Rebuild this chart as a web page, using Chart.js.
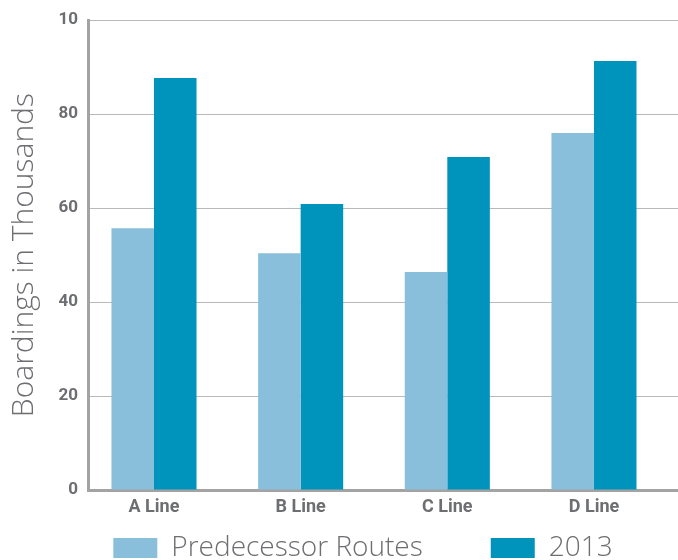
<!DOCTYPE html>
<html>
<head>
<meta charset="utf-8">
<script src="https://cdn.jsdelivr.net/npm/chart.js@4"></script>
<style>
  html, body { margin: 0; padding: 0; background: #fff; overflow: hidden; }
  #wrap { width: 678px; height: 560px; position: relative; }
</style>
</head>
<body>
<div id="wrap"><canvas id="boardChart"></canvas></div>
<script>
// chart values
const lines = ["A Line", "B Line", "C Line", "D Line"];
const predecessor = [55.7, 50.4, 46.4, 76.0];
const y2013 = [87.7, 60.9, 70.9, 91.3];
const yTicks = [0, 20, 40, 60, 80, 100];

const grey = "#6d6e71";
const legendGap = 68;

// bars sit on positions 1..4 of a linear axis so the gap at the left edge matches
const toPoints = arr => arr.map((v, i) => ({ x: i + 1, y: v }));

// keep the legend short (its padding is only meant as the gap between the two items)
const legendPlacer = {
    id: "legendPlacer",
    beforeInit(chart) {
        const fit = chart.legend.fit;
        chart.legend.fit = function () {
            fit.call(this);
            this.height = 34;
        };
    },
    afterLayout(chart) {
        const lg = chart.legend;
        // widen to the right so the centred row moves right and stays on one line
        lg.right += 48;
        lg.top = 534 - legendGap;
    }
};

const ctx = document.getElementById("boardChart").getContext("2d");
let boardChart = new Chart(ctx, {
    type: "bar",
    data: {
        datasets: [{
            label: "Predecessor Routes",
            backgroundColor: "#8abfdb",
            data: toPoints(predecessor)
        }, {
            label: "2013",
            backgroundColor: "#0093bb",
            data: toPoints(y2013)
        }]
    },
    plugins: [legendPlacer],
    options: {
        responsive: true,
        maintainAspectRatio: false,
        animation: false,
        categoryPercentage: 0.58,
        barPercentage: 1.0,
        layout: { padding: { top: 20, left: 0, right: 0, bottom: 0 } },
        plugins: {
            tooltip: { enabled: false },
            legend: {
                position: "bottom",
                labels: {
                    boxWidth: 44,
                    boxHeight: 20,
                    padding: legendGap,
                    color: grey,
                    font: { family: "'Open Sans', Lato, sans-serif", size: 28, weight: 300 }
                }
            }
        },
        scales: {
            x: {
                type: "linear",
                min: 0.55,
                max: 4.573,
                offset: false,
                grid: { display: false, drawTicks: false },
                border: { color: "#a3a3a3", width: 3 },
                afterBuildTicks: s => { s.ticks = lines.map((l, i) => ({ value: i + 1 })); },
                afterFit: s => { s.height = 36; },
                ticks: {
                    padding: 7,
                    color: grey,
                    font: { family: "'Liberation Sans Narrow', Roboto, sans-serif", size: 18, weight: "bold" },
                    callback: v => lines[v - 1]
                }
            },
            y: {
                min: 0,
                max: 100,
                afterBuildTicks: s => { s.ticks = yTicks.map(v => ({ value: v })); },
                afterFit: s => { s.width = 88; },
                grid: { color: "#b9b9b9", lineWidth: 1, drawTicks: false },
                border: { color: "#a3a3a3", width: 3 },
                title: {
                    display: true,
                    text: "Boardings in Thousands",
                    color: grey,
                    padding: { top: 6, bottom: 0 },
                    font: { family: "'Open Sans', Lato, sans-serif", size: 30, weight: 300 }
                },
                ticks: {
                    padding: 10,
                    color: grey,
                    font: { family: "Roboto, 'Liberation Sans', sans-serif", size: 17, weight: "bold" },
                    // top label appears truncated in the source picture
                    callback: v => v === 100 ? "10" : v
                }
            }
        }
    }
});
</script>
</body>
</html>
